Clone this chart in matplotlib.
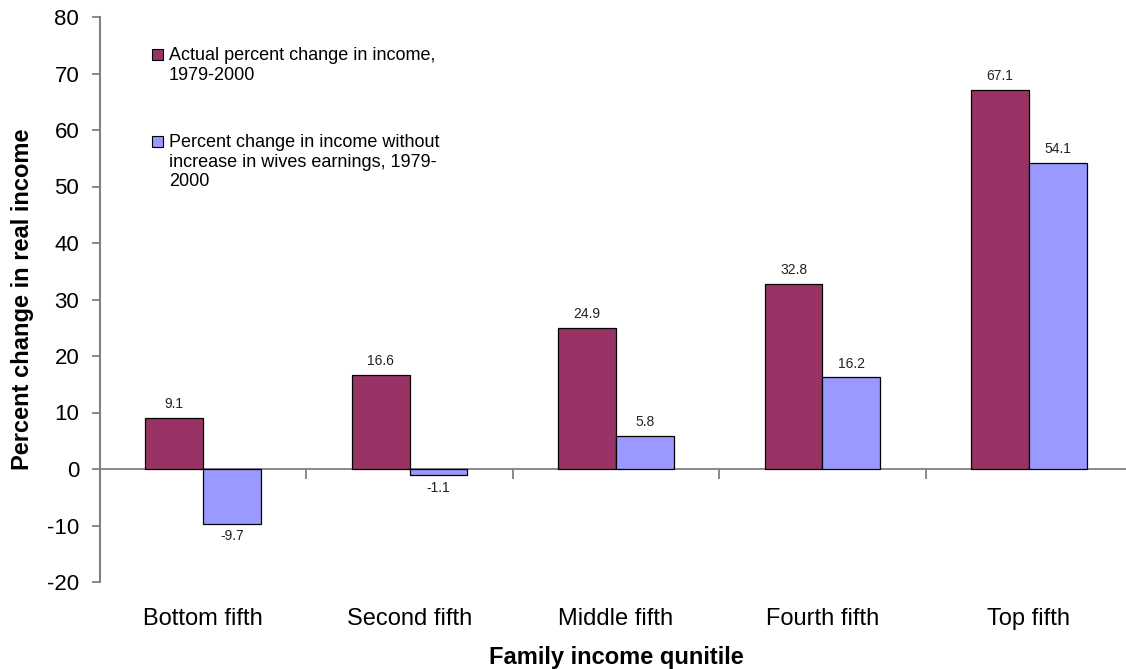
import matplotlib
matplotlib.use('Agg')
import matplotlib.pyplot as plt
import numpy as np
from matplotlib.patches import Rectangle

plt.rcParams['font.family'] = ['Liberation Sans', 'DejaVu Sans']
plt.rcParams['axes.unicode_minus'] = False

categories = ['Bottom fifth', 'Second fifth', 'Middle fifth', 'Fourth fifth', 'Top fifth']
actual = [9.1, 16.6, 24.9, 32.8, 67.1]
without_wives = [-9.7, -1.1, 5.8, 16.2, 54.1]
series_labels = ['Actual percent change in income,\n1979-2000',
                 'Percent change in income without\nincrease in wives earnings, 1979-\n2000']
colors = ['#993366', '#9999FF']

fig = plt.figure(figsize=(11.26, 6.69), dpi=100)
ax = fig.add_axes([100 / 1126, 1 - 582 / 669, 1032 / 1126, (582 - 17) / 669])

x = np.arange(len(categories))
w = 0.28
b1 = ax.bar(x - w / 2, actual, w, color=colors[0], edgecolor='black', linewidth=0.9)
b2 = ax.bar(x + w / 2, without_wives, w, color=colors[1], edgecolor='black', linewidth=0.9)

for bars, vals in ((b1, actual), (b2, without_wives)):
    for r, v in zip(bars, vals):
        if v >= 0:
            ax.annotate(f'{v:.1f}', (r.get_x() + r.get_width() / 2, v),
                        xytext=(0, 5), textcoords='offset points',
                        ha='center', va='bottom', fontsize=10, color='#222222')
        else:
            ax.annotate(f'{v:.1f}', (r.get_x() + r.get_width() / 2, v),
                        xytext=(0, -4), textcoords='offset points',
                        ha='center', va='top', fontsize=10, color='#222222')

ymin, ymax = -20, 80
ax.set_ylim(ymin, ymax)
ax.set_xlim(-0.5, len(categories) - 0.5)
ax.set_yticks(range(-20, 81, 10))
ax.tick_params(axis='y', labelsize=16, length=6, width=1.3, color='#808080', pad=9)

for s in ('top', 'right', 'bottom'):
    ax.spines[s].set_visible(False)
ax.spines['left'].set_color('#808080')
ax.spines['left'].set_linewidth(1.5)

# category labels below the plot
ax.set_xticks(x)
ax.set_xticklabels(categories, fontsize=17)
ax.tick_params(axis='x', length=0, pad=19)

# zero line with boundary ticks
zero_pos = -ymin / (ymax - ymin)
sec = ax.secondary_xaxis(zero_pos)
sec.spines['bottom'].set_color('#808080')
sec.spines['bottom'].set_linewidth(1.3)
sec.set_xticks(np.arange(len(categories) + 1) - 0.5)
sec.tick_params(axis='x', length=7, width=1.3, color='#808080', labelbottom=False)

ax.set_ylabel('Percent change in real income', fontsize=17, fontweight='bold', labelpad=9)
ax.set_xlabel('Family income qunitile', fontsize=17, fontweight='bold', labelpad=11)

# legend drawn by hand
entries = [(series_labels[0], colors[0], 49), (series_labels[1], colors[1], 136)]
for label, c, ytop in entries:
    fig.add_artist(Rectangle((152 / 1126, 1 - (ytop + 11) / 669), 11 / 1126, 11 / 669,
                             transform=fig.transFigure, facecolor=c,
                             edgecolor='black', linewidth=0.8))
    fig.text(169 / 1126, 1 - (ytop - 2) / 669, label, fontsize=13, va='top', ha='left',
             linespacing=1.2)

fig.savefig('out.png', dpi=100)
